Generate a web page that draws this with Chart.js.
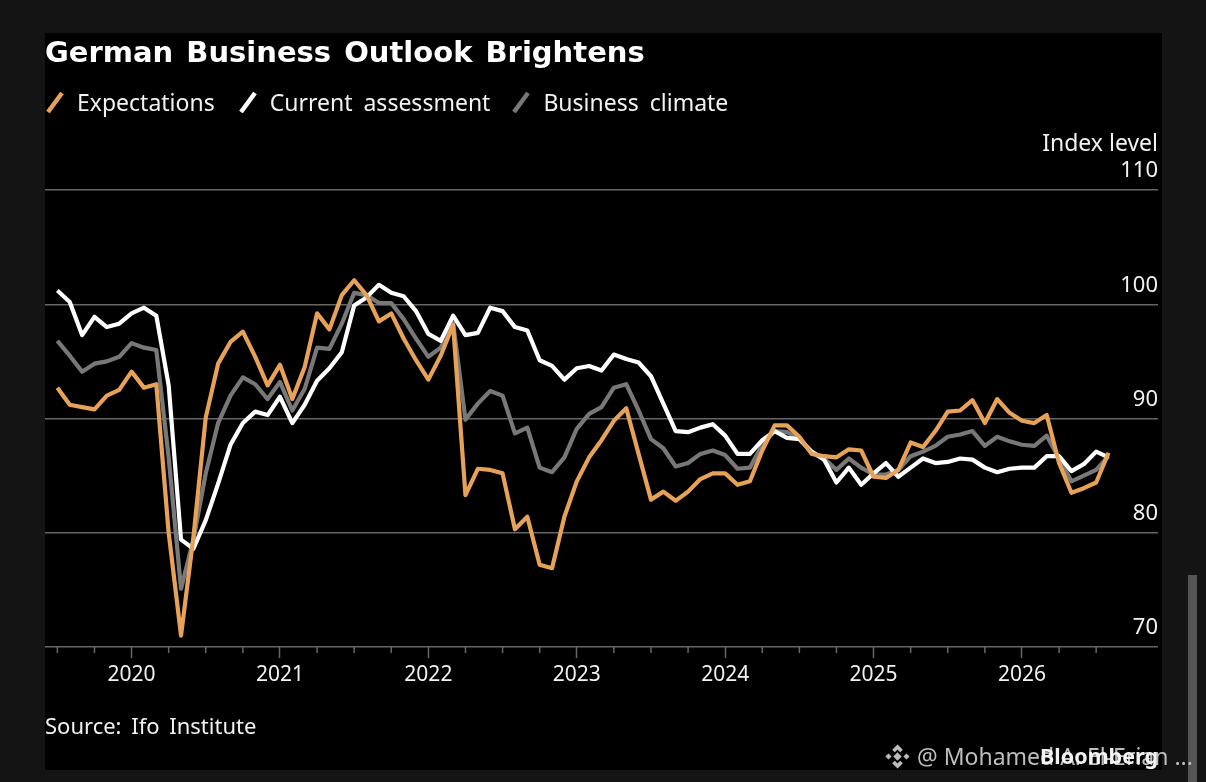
<!DOCTYPE html>
<html>
<head>
<meta charset="utf-8">
<title>German Business Outlook Brightens</title>
<script src="https://cdn.jsdelivr.net/npm/chart.js@4"></script>
<style>
  html, body { margin: 0; padding: 0; width: 1206px; height: 782px; overflow: hidden; background: #141414; }
  #panel { position: absolute; left: 45px; top: 33px; width: 1117px; height: 737px; background: #000; }
  #graph { position: absolute; left: 0; top: 0; }
  .txt { position: absolute; color: #f2f2f2; font-family: "Noto Sans", sans-serif; white-space: nowrap; }
  #title { left: 45px; top: 35px; font-family: "DejaVu Sans", sans-serif; font-size: 29px; font-weight: 700; word-spacing: 3px; color: #fff; }
  #legend { left: 46px; top: 86px; font-size: 23px; word-spacing: 5px; display: flex; }
  #legend span { display: inline-flex; align-items: center; margin-right: 24px; }
  #legend span:nth-child(2) { margin-right: 22px; }
  #legend svg { margin-right: 13px; }
  #unit { right: 48px; top: 126px; font-size: 23px; }
  #source { left: 45px; top: 710px; font-size: 22px; word-spacing: 4px; }
  #brand { right: 48px; top: 741px; font-size: 21.5px; font-weight: 700; }
  #mark { left: 917px; top: 740px; font-size: 23px; color: #bdbdbd; }
  #icon { position: absolute; left: 884px; top: 743px; }
  #scroll { position: absolute; left: 1188px; top: 575px; width: 9px; height: 207px; background: #555; }
</style>
</head>
<body>
<div id="panel"></div>
<div id="scroll"></div>
<canvas id="graph" width="1206" height="782"></canvas>
<div class="txt" id="title">German Business Outlook Brightens</div>
<div class="txt" id="legend"></div>
<div class="txt" id="unit">Index level</div>
<div class="txt" id="source">Source: Ifo Institute</div>
<div class="txt" id="mark">@ Mohamed A. El-Erian ...</div>
<div class="txt" id="brand">Bloomberg</div>
<svg id="icon" width="27" height="27" viewBox="0 0 24 24" fill="#bdbdbd" stroke="#bdbdbd" stroke-width="1">
  <path d="M12 2l4 4-1.6 1.6L12 5.2 9.6 7.6 8 6zM12 22l4-4-1.6-1.6L12 18.8l-2.4-2.4L8 18zM2 12l2-2 2 2-2 2zM18 12l2-2 2 2-2 2zM12 9l3 3-3 3-3-3z"/>
</svg>
<script>
// Datos (julio 2019 - agosto 2026, mensual)
const firstYear = 2019;
const firstMonth = 5; // el eje empieza en junio 2019
const monthCount = 91;
const lastQuarterTick = 85; // julio 2026, despues no hay marcas
const yTicks = [70, 80, 90, 100, 110];

const expectations = [null,
  92.7,91.2,91.0,90.8,92.0,92.5,94.1,92.7,93.0,80.0,71.0,79.6,90.1,94.8,96.7,97.6,95.4,92.9,94.7,91.7,
  94.5,99.2,97.8,100.8,102.1,100.8,98.5,99.2,97.0,95.1,93.4,95.5,98.2,83.3,85.6,85.5,85.2,80.3,81.4,77.2,
  76.9,81.4,84.5,86.6,88.1,89.8,90.9,86.9,82.9,83.6,82.8,83.6,84.7,85.2,85.2,84.2,84.5,87.2,89.4,89.4,
  88.4,86.9,86.7,86.6,87.3,87.2,84.9,84.8,85.5,87.9,87.5,88.9,90.6,90.7,91.6,89.6,91.7,90.5,89.8,89.6,
  90.3,86.1,83.5,83.9,84.4,87.0];
const currentAssessment = [null,
  101.2,100.2,97.3,98.9,98.0,98.3,99.2,99.7,99.0,92.9,79.4,78.6,81.1,84.3,87.7,89.6,90.6,90.3,91.9,89.6,
  91.2,93.3,94.4,95.8,99.9,100.6,101.7,101.0,100.7,99.4,97.4,96.8,99.0,97.3,97.5,99.7,99.4,98.0,97.7,95.1,
  94.6,93.4,94.4,94.6,94.2,95.6,95.2,94.9,93.7,91.3,88.9,88.8,89.2,89.5,88.5,86.9,86.9,88.1,88.9,88.3,
  88.2,87.1,86.4,84.4,85.7,84.2,85.2,86.1,84.9,85.7,86.5,86.1,86.2,86.5,86.4,85.7,85.3,85.6,85.7,85.7,
  86.7,86.7,85.4,86.0,87.1,86.6];
const businessClimate = [null,
  96.8,95.5,94.1,94.8,95.0,95.4,96.6,96.2,96.0,86.6,75.1,79.4,85.2,89.6,92.0,93.6,93.0,91.7,93.2,90.7,
  92.6,96.2,96.1,98.3,101.0,100.8,100.1,100.1,98.7,97.0,95.4,96.2,98.4,89.9,91.3,92.4,92.0,88.7,89.2,85.7,
  85.3,86.6,89.1,90.4,91.0,92.7,93.0,90.7,88.2,87.4,85.8,86.1,86.9,87.2,86.8,85.6,85.7,87.7,88.9,88.8,
  88.2,87.0,86.5,85.5,86.5,85.7,85.1,85.1,85.5,86.7,87.1,87.6,88.4,88.6,88.9,87.6,88.4,88.0,87.7,87.6,
  88.5,86.5,84.5,85.0,85.5,86.7];

const labels = [];
for (let i = 0; i < monthCount; i++) {
  const total = firstYear * 12 + firstMonth + i;
  labels.push({ year: Math.floor(total / 12), month: total % 12 });
}

const orange = "#e8a257";
const gridColor = "#666666";

// marcas cortas cada trimestre
const quarterTicks = {
  id: "quarterTicks",
  afterDraw(chart) {
    const { ctx, scales: { x, y } } = chart;
    ctx.save();
    ctx.strokeStyle = gridColor;
    ctx.lineWidth = 1.5;
    labels.forEach((l, i) => {
      if (l.month % 3 === 0 && l.month !== 0 && i <= lastQuarterTick) {
        const px = x.getPixelForValue(i);
        ctx.beginPath();
        ctx.moveTo(px, y.bottom);
        ctx.lineTo(px, y.bottom + 6);
        ctx.stroke();
      }
    });
    ctx.restore();
  }
};

const line = (label, data, color) => ({
  label, data, borderColor: color, backgroundColor: color,
  borderWidth: 4.2, pointRadius: 0, tension: 0, spanGaps: false,
  borderJoinStyle: "round", borderCapStyle: "butt"
});

const chart = new Chart("graph", {
  type: "line",
  data: {
    labels: labels.map(l => l.year + "-" + (l.month + 1)),
    datasets: [
      line("Expectations", expectations, orange),
      line("Current assessment", currentAssessment, "#ffffff"),
      line("Business climate", businessClimate, "#787878")
    ]
  },
  plugins: [quarterTicks],
  options: {
    responsive: false,
    animation: false,
    layout: { padding: { left: 45, right: 48, top: 190, bottom: 95 } },
    plugins: { legend: { display: false }, title: { display: false }, tooltip: { enabled: false } },
    scales: {
      x: {
        type: "category",
        afterFit: s => { s.height = 40; },
        border: { display: false },
        grid: {
          drawOnChartArea: false,
          tickLength: 11,
          tickWidth: 1.5,
          tickColor: c => labels[c.index] && labels[c.index].month === 0 ? gridColor : "rgba(0,0,0,0)"
        },
        ticks: {
          autoSkip: false, maxRotation: 0, padding: 4,
          color: "#f2f2f2",
          font: { family: "Noto Sans", size: 21 },
          callback: (v, i) => labels[i].month === 0 ? String(labels[i].year) : ""
        }
      },
      y: {
        position: "right",
        min: 70, max: 110,
        afterFit: s => { s.width = 0; },
        afterBuildTicks: s => { s.ticks = yTicks.map(value => ({ value })); },
        border: { display: false },
        grid: { color: gridColor, lineWidth: 1.5, drawTicks: false },
        ticks: {
          mirror: true, padding: 0, labelOffset: -19,
          color: "#f2f2f2",
          font: { family: "Noto Sans", size: 22 }
        }
      }
    }
  }
});

// leyenda en html a partir de los datasets
const legendBox = document.getElementById("legend");
chart.data.datasets.forEach((d, i) => {
  const item = document.createElement("span");
  item.innerHTML = '<svg width="18" height="22"><line x1="2" y1="21" x2="16" y2="2" stroke="' +
    d.borderColor + '" stroke-width="4.5"/></svg>';
  item.appendChild(document.createTextNode(d.label));
  legendBox.appendChild(item);
});
</script>
</body>
</html>
